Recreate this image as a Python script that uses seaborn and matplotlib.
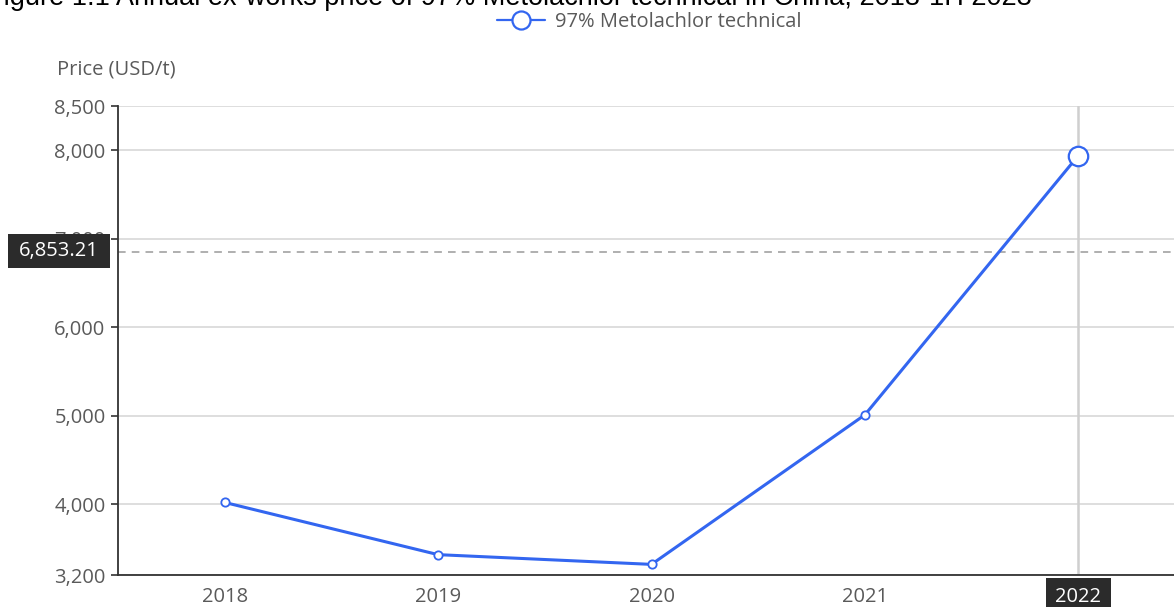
import pandas as pd
import matplotlib.pyplot as plt
from matplotlib.patches import Rectangle
import seaborn as sns

# ------------------------------------------------------------
# data
# ------------------------------------------------------------
years = ['2018', '2019', '2020', '2021', '2022']
price = [4020, 3430, 3320, 5010, 7940]
y_ticks = [3200, 4000, 5000, 6000, 7000, 8000, 8500]
pointer_value = 6853.21
series_name = '97% Metolachlor technical'
title = 'Figure 1.1 Annual ex-works price of 97% Metolachlor technical in China, 2018-1H 2023'

df = pd.DataFrame({'year': years, 'price': price})
df['pos'] = range(len(df))

sns.set_style('white')
plt.rcParams['font.family'] = ['Open Sans', 'DejaVu Sans']

blue = '#3366f0'
grey_txt = '#5a5a5a'
axis_col = '#333333'
fs = 14.5

W, H = 1174, 607
fig = plt.figure(figsize=(W / 100, H / 100), dpi=100)
ax = fig.add_axes([118 / W, 32 / H, 1067 / W, 469 / H])

# horizontal grid
for v in y_ticks:
    ax.axhline(v, color='#d4d4d4', lw=1.1, zorder=0)

# crosshair pointer
ax.axvline(df['pos'].iloc[-1], color='#cfcfcf', lw=1.8, zorder=1)
ax.axhline(pointer_value, color='#9a9a9a', lw=1.1, ls=(0, (5, 4)), zorder=1)

sns.lineplot(data=df, x='pos', y='price', ax=ax, color=blue, lw=2.2,
             marker='o', markersize=6, markerfacecolor='white',
             markeredgecolor=blue, markeredgewidth=1.3, label=series_name,
             zorder=3)
# hovered point is emphasised
ax.plot(df['pos'].iloc[-1], df['price'].iloc[-1], 'o', ms=14, mfc='white',
        mec=blue, mew=1.6, zorder=4)

ax.set_xlim(-0.5, len(years) - 0.5)
ax.set_ylim(y_ticks[0], y_ticks[-1])

ax.set_xticks(df['pos'])
ax.set_xticklabels(years)
ax.set_xticks([i + 0.5 for i in range(len(years) - 1)], minor=True)
ax.tick_params(axis='x', which='major', length=0, pad=9, labelsize=fs, labelcolor=grey_txt)
ax.tick_params(axis='x', which='minor', length=6, width=1.2, color=axis_col, direction='out')

ax.set_yticks(y_ticks)
ax.set_yticklabels([f'{v:,}' for v in y_ticks])
ax.tick_params(axis='y', length=5, width=1.2, color=axis_col, pad=4, labelsize=fs,
               labelcolor=grey_txt, left=True)

ax.set_xlabel('')
ax.set_ylabel('')
for s in ['top', 'right']:
    ax.spines[s].set_visible(False)
for s in ['left', 'bottom']:
    ax.spines[s].set_color(axis_col)
    ax.spines[s].set_linewidth(1.3)

# highlighted 2022 tick label
lab = ax.get_xticklabels()[-1]
lab.set_color('white')
lab.set_bbox(dict(facecolor='#2b2b2b', edgecolor='none', pad=7))

# pointer value box on the y axis (covers most of the 7,000 label)
fig.patches.append(Rectangle((8 / W, 1 - 268 / H), 102 / W, 34 / H,
                             transform=fig.transFigure, facecolor='#2b2b2b',
                             edgecolor='none', zorder=9))
fig.text(59 / W, 1 - 251 / H, f'{pointer_value:,.2f}', ha='center', va='center',
         fontsize=fs, color='white', zorder=10)

# axis name
fig.text(116 / W, 1 - 69 / H, 'Price (USD/t)', ha='center', va='center',
         fontsize=fs, color=grey_txt)

# clipped figure title at top
fig.text(-13 / W, 1 - 5 / H, title, ha='left', va='baseline', fontsize=19.5,
         color='black', family=['Liberation Sans', 'DejaVu Sans'])

leg = ax.legend(loc='center', bbox_to_anchor=(649 / W, 1 - 22 / H),
                bbox_transform=fig.transFigure, frameon=False, fontsize=fs,
                handlelength=2.4, handletextpad=0.5, labelcolor=grey_txt)
h = leg.legend_handles[0]
h.set_markersize(13)
h.set_markeredgewidth(1.6)
h.set_linewidth(1.6)

fig.savefig('out.png', dpi=100)
